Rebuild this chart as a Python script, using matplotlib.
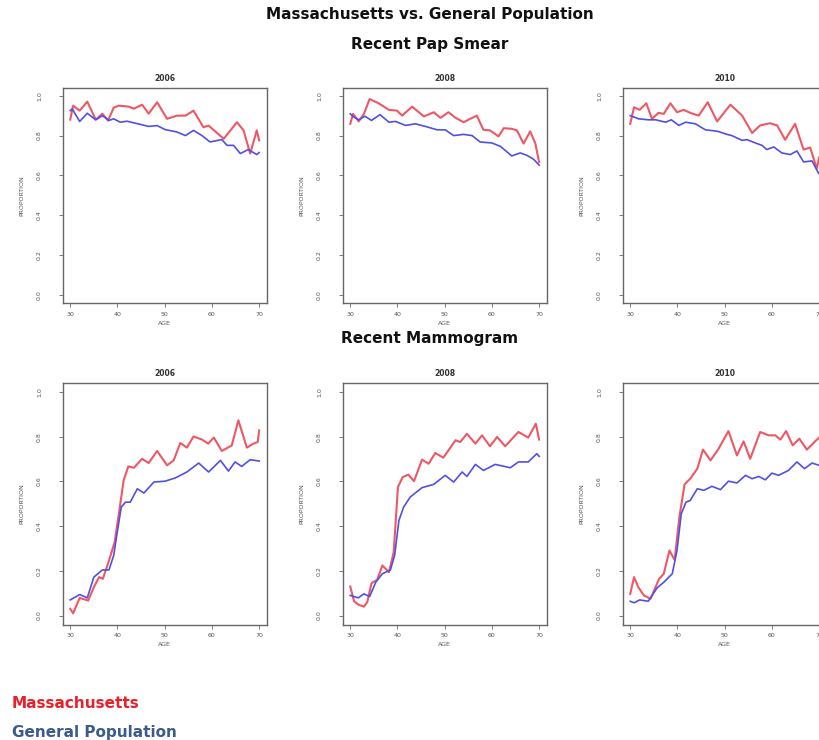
import matplotlib
matplotlib.use("Agg")
import matplotlib.pyplot as plt

# ---- smoothed proportions by age, Massachusetts (ma) vs general population (gp) ----
years = ["2006", "2008", "2010"]

# Recent Pap smear
pap_ma_age = [
    [30, 30.6, 32, 33.6, 35.4, 36.8, 38, 39.2, 40.3, 42.4, 43.5, 45.2, 46.6, 48.4, 50.5,
     52.6, 54.4, 56.1, 58.2, 59.3, 62.5, 65.3, 66.7, 68.1, 69.5, 70],
    [30, 30.6, 31.8, 32.9, 34.1, 36, 38.2, 39.9, 41, 43.1, 45.6, 47.7, 49.1, 50.8, 52.3,
     54, 55.4, 56.8, 58.2, 59.6, 61.4, 62.5, 64.2, 65.3, 66.7, 68.1, 69.2, 69.9, 70],
    [30, 30.8, 32, 33.4, 34.6, 36, 37.1, 38.5, 39.9, 41.3, 42.7, 44.5, 46.4, 48.4, 51.2,
     53.7, 55.8, 57.5, 59.6, 61.1, 62.8, 64.9, 66.7, 68.1, 69.5, 70],
]
pap_ma_val = [
    [0.88, 0.95, 0.925, 0.97, 0.88, 0.91, 0.875, 0.94, 0.95, 0.945, 0.935, 0.955, 0.91,
     0.967, 0.884, 0.90, 0.90, 0.925, 0.842, 0.85, 0.784, 0.867, 0.826, 0.71, 0.826, 0.776],
    [0.859, 0.909, 0.871, 0.909, 0.983, 0.962, 0.929, 0.925, 0.90, 0.945, 0.896, 0.917,
     0.889, 0.917, 0.889, 0.867, 0.884, 0.90, 0.829, 0.826, 0.796, 0.837, 0.834, 0.826,
     0.76, 0.821, 0.76, 0.677, 0.668],
    [0.859, 0.942, 0.929, 0.962, 0.884, 0.914, 0.909, 0.962, 0.917, 0.929, 0.914, 0.90,
     0.967, 0.871, 0.955, 0.90, 0.813, 0.851, 0.862, 0.851, 0.779, 0.859, 0.73, 0.74,
     0.635, 0.69],
]
pap_gp_age = [
    [30, 30.4, 32, 33.6, 35.4, 36.8, 38.2, 39.2, 40.6, 42, 43.8, 46.6, 48.4, 50.1, 52.6,
     54.4, 56.1, 57.9, 59.6, 62.1, 63.2, 64.6, 66, 67.7, 69.5, 70],
    [30, 30.8, 31.8, 33.1, 34.5, 36.3, 38.2, 39.6, 41.7, 43.8, 45.9, 48.4, 50.1, 51.9, 54,
     55.8, 57.5, 60, 61.8, 64.2, 66, 67.4, 68.8, 70],
    [30, 31.8, 33.9, 35.4, 37.5, 38.7, 40.3, 41.7, 43.8, 45.9, 48.4, 50.5, 51.5, 53.7,
     54.7, 56.5, 57.9, 58.9, 60.4, 62.1, 63.9, 65.3, 66.7, 68.5, 69.9],
]
pap_gp_val = [
    [0.925, 0.934, 0.871, 0.912, 0.879, 0.90, 0.876, 0.884, 0.867, 0.872, 0.862, 0.846,
     0.85, 0.83, 0.818, 0.80, 0.826, 0.80, 0.768, 0.78, 0.751, 0.751, 0.71, 0.73, 0.705, 0.715],
    [0.909, 0.892, 0.879, 0.897, 0.876, 0.905, 0.867, 0.871, 0.851, 0.859, 0.846, 0.829,
     0.829, 0.80, 0.806, 0.80, 0.768, 0.763, 0.746, 0.698, 0.713, 0.701, 0.682, 0.652],
    [0.90, 0.884, 0.879, 0.879, 0.867, 0.879, 0.851, 0.867, 0.859, 0.829, 0.822, 0.806,
     0.80, 0.776, 0.78, 0.763, 0.751, 0.73, 0.743, 0.713, 0.705, 0.723, 0.668, 0.673, 0.61],
]

# Recent mammogram
mam_ma_age = [
    [30, 30.6, 32, 33.8, 35, 36.1, 36.9, 38.2, 39.4, 40.4, 41.3, 42.3, 43.5, 45.2, 46.6,
     48.4, 50.5, 51.9, 53.3, 54.7, 56.1, 57.9, 59.2, 60.4, 62.1, 64.2, 65.6, 67.4, 68.8,
     69.7, 70],
    [30, 30.8, 31.8, 32.9, 33.6, 34.5, 35.7, 36.8, 38.2, 39.2, 40.1, 41.1, 42.3, 43.5,
     45.2, 46.6, 48, 49.7, 52.3, 53.3, 54.7, 56.5, 57.9, 59.6, 61.1, 62.8, 65.6, 67.7,
     69.3, 70],
    [30, 30.8, 31.7, 32.9, 34.3, 36.1, 37.1, 38.3, 39.4, 40.4, 41.5, 42.7, 44.2, 45.4, 47,
     48.7, 50.8, 52.6, 54, 55.4, 57.5, 59.3, 60.7, 61.8, 63, 64.4, 65.8, 67.4, 69, 70],
]
mam_ma_val = [
    [0.03, 0.01, 0.079, 0.067, 0.127, 0.172, 0.164, 0.246, 0.328, 0.47, 0.604, 0.667,
     0.661, 0.701, 0.682, 0.736, 0.672, 0.694, 0.772, 0.751, 0.801, 0.787, 0.769, 0.796,
     0.736, 0.761, 0.873, 0.751, 0.769, 0.776, 0.828],
    [0.13, 0.064, 0.048, 0.04, 0.06, 0.145, 0.16, 0.224, 0.194, 0.284, 0.575, 0.619, 0.63,
     0.601, 0.697, 0.679, 0.727, 0.706, 0.784, 0.776, 0.813, 0.769, 0.806, 0.757, 0.799,
     0.757, 0.821, 0.796, 0.858, 0.787],
    [0.097, 0.172, 0.127, 0.09, 0.075, 0.164, 0.187, 0.291, 0.249, 0.44, 0.587, 0.612,
     0.657, 0.742, 0.694, 0.746, 0.825, 0.716, 0.779, 0.701, 0.821, 0.806, 0.806, 0.787,
     0.825, 0.761, 0.791, 0.742, 0.776, 0.796],
]
mam_gp_age = [
    [30, 32, 33.6, 35, 36.8, 38.2, 39.2, 39.9, 40.8, 41.7, 42.7, 44.2, 45.6, 47.7, 50.1,
     52.3, 54.7, 57.2, 59.3, 61.8, 63.5, 64.9, 66.3, 68.1, 70],
    [30, 31.7, 32.9, 34.1, 35.4, 36.8, 38.5, 39.4, 40.3, 41.3, 42.7, 45.2, 47.7, 50.1,
     51.9, 53.7, 54.7, 56.5, 58.2, 60.7, 63.9, 65.6, 67.7, 69.5, 70],
    [30, 30.8, 32, 33.8, 35.7, 37.1, 38.9, 39.9, 40.8, 41.8, 42.7, 44.2, 45.6, 47.3, 49.1,
     50.8, 52.6, 54.4, 55.8, 57.2, 58.6, 60, 61.4, 63.5, 65.3, 66.9, 68.5, 70],
]
mam_gp_val = [
    [0.07, 0.094, 0.079, 0.172, 0.204, 0.204, 0.269, 0.366, 0.485, 0.507, 0.507, 0.567,
     0.548, 0.597, 0.601, 0.616, 0.642, 0.682, 0.642, 0.694, 0.646, 0.687, 0.667, 0.697, 0.691],
    [0.09, 0.079, 0.097, 0.085, 0.149, 0.187, 0.204, 0.269, 0.425, 0.485, 0.53, 0.572,
     0.587, 0.627, 0.597, 0.642, 0.622, 0.676, 0.649, 0.676, 0.661, 0.687, 0.687, 0.724, 0.712],
    [0.064, 0.057, 0.07, 0.064, 0.124, 0.149, 0.187, 0.291, 0.455, 0.507, 0.515, 0.567,
     0.56, 0.578, 0.563, 0.601, 0.593, 0.627, 0.612, 0.622, 0.607, 0.637, 0.627, 0.649,
     0.687, 0.657, 0.682, 0.672],
]

RED = "#ee5864"
BLUE = "#5050e6"
FRAME = "#666666"
TICK_C = "#555555"

W, H = 819, 740
fig = plt.figure(figsize=(W / 100, H / 100), dpi=100)


def px_axes(left, top, width, height):
    # axes placed in pixel units measured from the top-left corner
    return fig.add_axes([left / W, 1 - (top + height) / H, width / W, height / H])


def draw_panel(ax, title, ma_x, ma_y, gp_x, gp_y):
    ax.plot(ma_x, ma_y, color=RED, lw=1.5, solid_joinstyle="round")
    ax.plot(gp_x, gp_y, color=BLUE, lw=1.2, solid_joinstyle="round")
    ax.set_xlim(28.4, 71.6)
    ax.set_ylim(-0.04, 1.04)
    ax.set_xticks([30, 40, 50, 60, 70])
    ax.set_yticks([0.0, 0.2, 0.4, 0.6, 0.8, 1.0])
    ax.set_yticklabels(["0.0", "0.2", "0.4", "0.6", "0.8", "1.0"],
                       rotation=90, va="center")
    ax.tick_params(axis="both", labelsize=4.5, length=3, width=0.6,
                   colors=FRAME, labelcolor=TICK_C)
    ax.tick_params(axis="y", pad=12)
    ax.tick_params(axis="x", pad=3)
    for s in ax.spines.values():
        s.set_color(FRAME)
        s.set_linewidth(1.0)
    ax.set_title(title, fontsize=5.5, fontweight="bold", color="#333333", pad=5)
    ax.set_xlabel("AGE", fontsize=4.5, color=TICK_C, labelpad=3)
    ax.set_ylabel("PROPORTION", fontsize=4.5, color=TICK_C, labelpad=9)


col_left = [62.7, 342.7, 622.7]
for i, yr in enumerate(years):
    ax = px_axes(col_left[i], 87.7, 204, 215.5)
    draw_panel(ax, yr, pap_ma_age[i], pap_ma_val[i], pap_gp_age[i], pap_gp_val[i])
    ax = px_axes(col_left[i], 383, 204, 241.5)
    draw_panel(ax, yr, mam_ma_age[i], mam_ma_val[i], mam_gp_age[i], mam_gp_val[i])

# headings
fig.text(430 / W, 1 - 15 / H, "Massachusetts vs. General Population",
         ha="center", va="center", fontsize=11, fontweight="bold", color="#111111")
fig.text(430 / W, 1 - 45 / H, "Recent Pap Smear",
         ha="center", va="center", fontsize=11, fontweight="bold", color="#111111")
fig.text(430 / W, 1 - 339 / H, "Recent Mammogram",
         ha="center", va="center", fontsize=11, fontweight="bold", color="#111111")

# colour key
fig.text(12 / W, 1 - 704 / H, "Massachusetts", ha="left", va="center",
         fontsize=11, fontweight="bold", color="#e8202a")
fig.text(12 / W, 1 - 732 / H, "General Population", ha="left", va="center",
         fontsize=11, fontweight="bold", color="#3d5a8c")

fig.savefig("out.png", dpi=100)
